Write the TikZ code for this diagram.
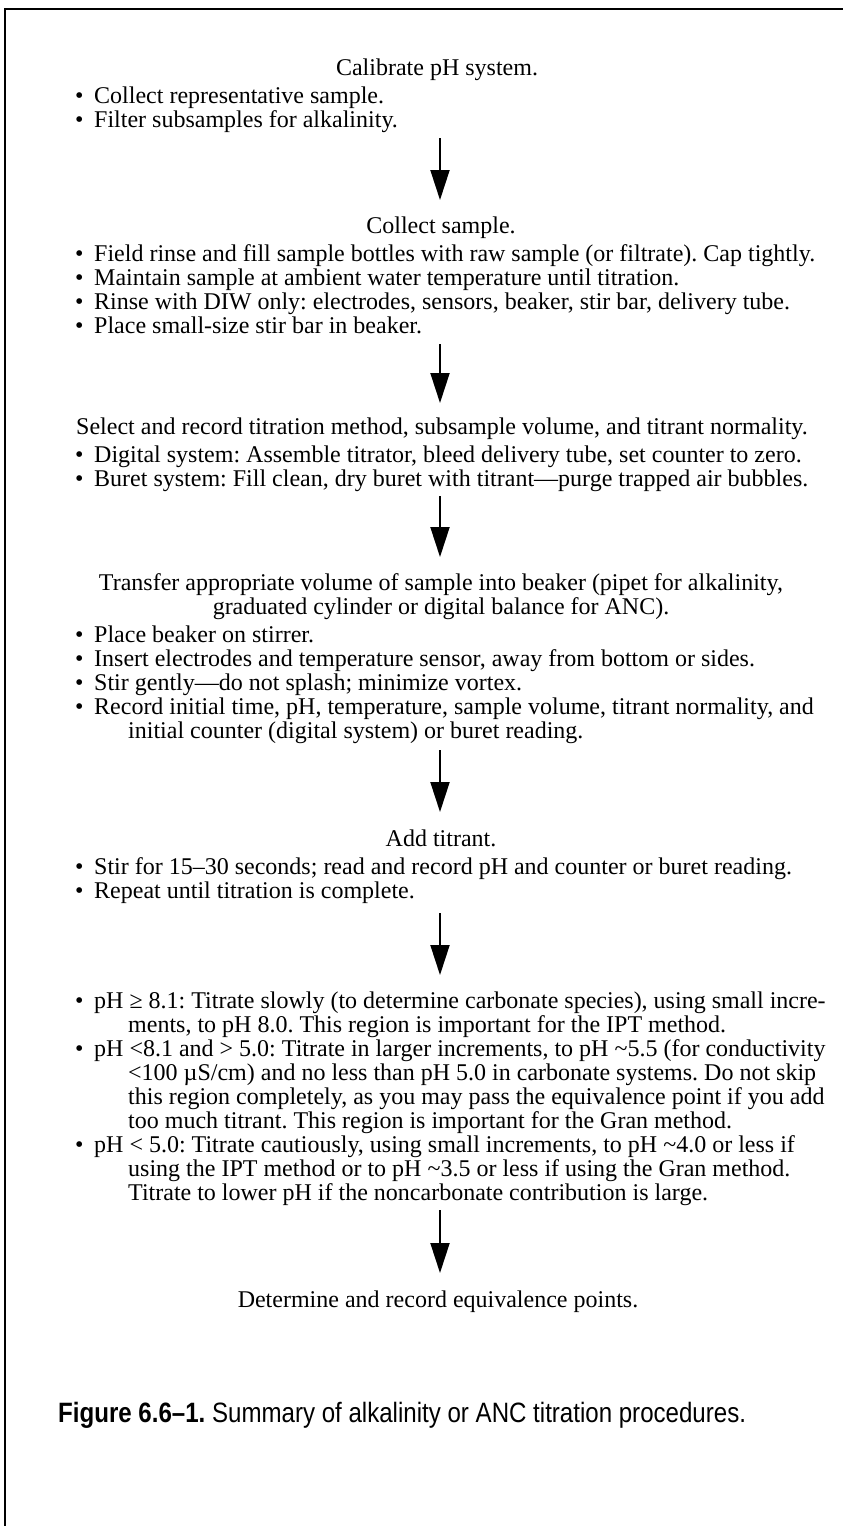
\documentclass[tikz,border=0pt]{standalone}
\usepackage{fontspec}
\setmainfont{Liberation Serif}
\newfontfamily\capfont[FakeStretch=0.86]{Liberation Sans}
\usetikzlibrary{arrows.meta,calc}
\frenchspacing
\newcommand{\itembul}{\makebox[19pt][l]{\textbullet}}
\tikzset{
  body/.style={font=\frenchspacing\fontsize{24}{26}\selectfont, inner sep=0pt},
  hd/.style={body, anchor=base},
  li/.style={body, anchor=base west},
  flow/.style={line width=2pt, -{Triangle[length=30pt,width=19pt]}},
  frame/.style={line width=2.5pt},
  captext/.style={font=\capfont\fontsize{28}{30}\selectfont, inner sep=0pt, anchor=base west}
}
\begin{document}
\begin{tikzpicture}[x=1pt,y=-1pt]
\useasboundingbox (0,0) rectangle (843,1526);
\draw[frame] (5,1526) -- (5,9) -- (843,9);
\coordinate (ax) at (440,0);
% Block 1
\node[hd] (h1) at (437,75) {Calibrate pH system.};
\node[li] (b1a) at (75,103) {\itembul Collect representative sample.};
\node[li] (b1b) at (75,127) {\itembul Filter subsamples for alkalinity.};
% Block 2
\node[hd] (h2) at (441,233) {Collect sample.};
\node[li] (b2a) at (75,261) {\itembul Field rinse and fill sample bottles with raw sample (or filtrate). Cap tightly.};
\node[li] (b2b) at (75,285) {\itembul Maintain sample at ambient water temperature until titration.};
\node[li] (b2c) at (75,309) {\itembul Rinse with DIW only: electrodes, sensors, beaker, stir bar, delivery tube.};
\node[li] (b2d) at (75,333) {\itembul Place small-size stir bar in beaker.};
% Block 3
\node[hd] (h3) at (442,434) {Select and record titration method, subsample volume, and titrant normality.};
\node[li] (b3a) at (75,462) {\itembul Digital system: Assemble titrator, bleed delivery tube, set counter to zero.};
\node[li] (b3b) at (75,486) {\itembul Buret system: Fill clean, dry buret with titrant---purge trapped air bubbles.};
% Block 4
\node[hd] (h4a) at (441,590) {Transfer appropriate volume of sample into beaker (pipet for alkalinity,};
\node[hd] (h4b) at (441,614) {graduated cylinder or digital balance for ANC).};
\node[li] (b4a) at (75,642) {\itembul Place beaker on stirrer.};
\node[li] (b4b) at (75,666) {\itembul Insert electrodes and temperature sensor, away from bottom or sides.};
\node[li] (b4c) at (75,690) {\itembul Stir gently---do not splash; minimize vortex.};
\node[li] (b4d) at (75,714) {\itembul Record initial time, pH, temperature, sample volume, titrant normality, and};
\node[li] (b4e) at (128,738) {initial counter (digital system) or buret reading.};
% Block 5
\node[hd] (h5) at (441,846) {Add titrant.};
\node[li] (b5a) at (75,874) {\itembul Stir for 15--30 seconds; read and record pH and counter or buret reading.};
\node[li] (b5b) at (75,898) {\itembul Repeat until titration is complete.};
% Block 6
\node[li] (b6a) at (75,1008) {\itembul pH ≥ 8.1: Titrate slowly (to determine carbonate species), using small incre-};
\node[li] (b6b) at (128,1032) {ments, to pH 8.0. This region is important for the IPT method.};
\node[li] (b6c) at (75,1056) {\itembul pH <8.1 and > 5.0: Titrate in larger increments, to pH \textasciitilde5.5 (for conductivity};
\node[li] (b6d) at (128,1080) {<100 µS/cm) and no less than pH 5.0 in carbonate systems. Do not skip};
\node[li] (b6e) at (128,1104) {this region completely, as you may pass the equivalence point if you add};
\node[li] (b6f) at (128,1128) {too much titrant. This region is important for the Gran method.};
\node[li] (b6g) at (75,1152) {\itembul pH < 5.0: Titrate cautiously, using small increments, to pH \textasciitilde4.0 or less if};
\node[li] (b6h) at (128,1176) {using the IPT method or to pH \textasciitilde3.5 or less if using the Gran method.};
\node[li] (b6i) at (128,1200) {Titrate to lower pH if the noncarbonate contribution is large.};
% Block 7
\node[hd] (h7) at (438,1307) {Determine and record equivalence points.};
% Caption
\node[captext] (capt) at (58,1422) {\textbf{Figure 6.6–1.} Summary of alkalinity or ANC titration procedures.};
% Arrows
\draw[flow] ($(b1b.base -| ax)+(0,11)$) -- ($(h2.base -| ax)+(0,-33)$);
\draw[flow] ($(b2d.base -| ax)+(0,11)$) -- ($(h3.base -| ax)+(0,-31)$);
\draw[flow] ($(b3b.base -| ax)+(0,10)$) -- ($(h4a.base -| ax)+(0,-33)$);
\draw[flow] ($(b4e.base -| ax)+(0,12)$) -- ($(h5.base -| ax)+(0,-34)$);
\draw[flow] ($(b5b.base -| ax)+(0,15)$) -- ($(b6a.base -| ax)+(0,-33)$);
\draw[flow] ($(b6i.base -| ax)+(0,10)$) -- ($(h7.base -| ax)+(0,-34)$);
\end{tikzpicture}
\end{document}
